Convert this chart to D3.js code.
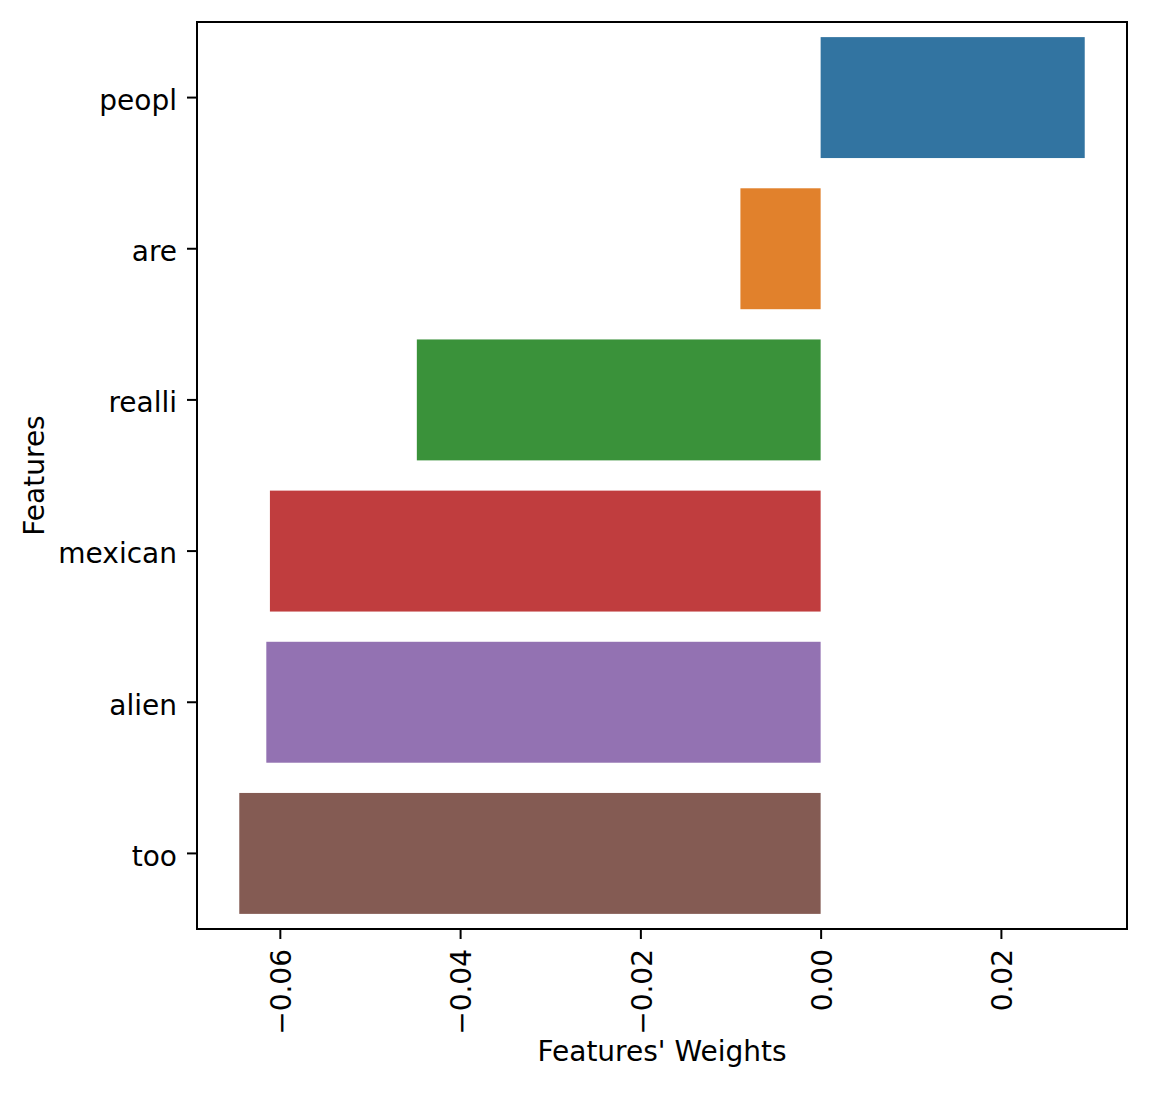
<!DOCTYPE html>
<head>
<meta charset="UTF-8">
<script src="https://d3js.org/d3.v7.min.js"></script>
<style>
  body { margin: 0; background: #fff; }
  text { font-family: "DejaVu Sans", sans-serif; fill: #000; }
</style>
</head>
<body>
<div id="chart"></div>
<script>
  // data
  var features = ["peopl", "are", "realli", "mexican", "alien", "too"];
  var weights = [0.0293, -0.0089, -0.0448, -0.0611, -0.0615, -0.0645];
  var colors = ["#3274a1", "#e1812c", "#3a923a", "#c03d3e", "#9372b2", "#845b53"];
  var xTicks = [-0.06, -0.04, -0.02, 0.00, 0.02];

  var width = 1150, height = 1093;
  var margin = {left: 197, right: 23, top: 22, bottom: 164};
  var fs = 28;

  var svg = d3.select("#chart").append("svg")
      .attr("width", width)
      .attr("height", height);

  // 5% margins like matplotlib
  var lo = Math.min(0, d3.min(weights)), hi = Math.max(0, d3.max(weights));
  var pad = (hi - lo) * 0.05;

  var x = d3.scaleLinear()
      .domain([lo - pad, hi + pad])
      .range([margin.left, width - margin.right]);

  var y = d3.scaleBand()
      .domain(features)
      .range([margin.top, height - margin.bottom])
      .paddingInner(0.2)
      .paddingOuter(0.1);

  svg.selectAll("rect.bar")
      .data(features)
      .enter().append("rect")
      .attr("class", "bar")
      .attr("x", function(d, i) { return x(Math.min(0, weights[i])); })
      .attr("width", function(d, i) { return Math.abs(x(weights[i]) - x(0)); })
      .attr("y", function(d) { return y(d); })
      .attr("height", y.bandwidth())
      .attr("fill", function(d, i) { return colors[i]; });

  // y axis
  var yAxis = svg.append("g")
      .attr("transform", "translate(" + margin.left + ",0)")
      .call(d3.axisLeft(y).tickSize(10).tickPadding(10));
  yAxis.select(".domain").remove();
  yAxis.selectAll("line").attr("stroke", "#000").attr("stroke-width", 2);
  yAxis.selectAll("text").style("font-size", fs + "px").attr("font-family", null)
      .attr("dy", "0.44em");

  // x axis with rotated labels
  var xAxis = svg.append("g")
      .attr("transform", "translate(0," + (height - margin.bottom) + ")")
      .call(d3.axisBottom(x).tickValues(xTicks).tickSize(10).tickFormat(d3.format(".2f")));
  xAxis.select(".domain").remove();
  xAxis.selectAll("line").attr("stroke", "#000").attr("stroke-width", 2);
  xAxis.selectAll("text")
      .style("font-size", fs + "px")
      .attr("font-family", null)
      .attr("y", 0).attr("x", -20).attr("dy", "0.38em")
      .attr("transform", "rotate(-90)")
      .attr("text-anchor", "end");

  // frame
  svg.append("rect")
      .attr("x", margin.left)
      .attr("y", margin.top)
      .attr("width", width - margin.left - margin.right)
      .attr("height", height - margin.top - margin.bottom)
      .attr("fill", "none")
      .attr("stroke", "#000")
      .attr("stroke-width", 2);

  svg.append("text")
      .attr("x", (margin.left + width - margin.right) / 2)
      .attr("y", 1061)
      .attr("text-anchor", "middle")
      .style("font-size", fs + "px")
      .text("Features' Weights");

  svg.append("text")
      .attr("transform", "translate(44," + ((margin.top + height - margin.bottom) / 2) + ") rotate(-90)")
      .attr("text-anchor", "middle")
      .style("font-size", fs + "px")
      .text("Features");
</script>
</body>
